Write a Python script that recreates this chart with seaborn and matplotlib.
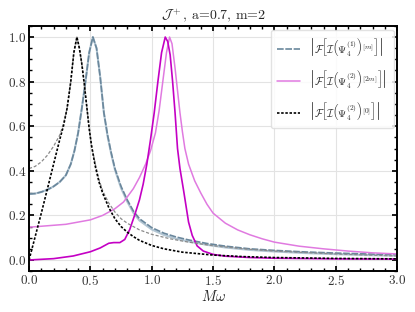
import numpy as np
import pandas as pd
import matplotlib
matplotlib.use("Agg")
import matplotlib.pyplot as plt
import seaborn as sns

# ---- values ----
x_m = [0.0, 0.05, 0.1, 0.15, 0.2, 0.25, 0.3, 0.34, 0.37, 0.4, 0.43, 0.46, 0.49, 0.52,
       0.55, 0.58, 0.61, 0.64, 0.67, 0.7, 0.75, 0.8, 0.85, 0.9, 1.0, 1.1, 1.2, 1.3,
       1.45, 1.6, 1.8, 2.0, 2.25, 2.5, 2.75, 3.0]
y_m_dash = [0.296, 0.298, 0.305, 0.315, 0.33, 0.35, 0.38, 0.43, 0.49, 0.57, 0.68, 0.8,
            0.93, 1.0, 0.95, 0.82, 0.66, 0.56, 0.48, 0.41, 0.33, 0.27, 0.22, 0.185,
            0.145, 0.12, 0.103, 0.09, 0.074, 0.062, 0.05, 0.043, 0.036, 0.031, 0.027, 0.024]
y_m_ref = [0.296, 0.298, 0.305, 0.315, 0.33, 0.35, 0.38, 0.43, 0.49, 0.57, 0.68, 0.8,
           0.93, 1.0, 0.95, 0.82, 0.66, 0.555, 0.475, 0.405, 0.322, 0.262, 0.212, 0.177,
           0.137, 0.112, 0.095, 0.083, 0.068, 0.056, 0.045, 0.038, 0.031, 0.026, 0.022, 0.019]

x_2m = [0.0, 0.3, 0.5, 0.6, 0.7, 0.77, 0.85, 0.9, 0.95, 0.99, 1.03, 1.06, 1.09, 1.12,
        1.145, 1.165, 1.19, 1.21, 1.23, 1.25, 1.27, 1.3, 1.35, 1.4, 1.45, 1.5, 1.6,
        1.7, 1.8, 1.9, 2.0, 2.2, 2.4, 2.6, 2.8, 3.0]
y_2m = [0.147, 0.16, 0.18, 0.2, 0.23, 0.26, 0.32, 0.37, 0.43, 0.49, 0.57, 0.67, 0.8,
        0.93, 1.0, 0.97, 0.86, 0.76, 0.66, 0.575, 0.5, 0.43, 0.355, 0.3, 0.25, 0.21,
        0.165, 0.135, 0.113, 0.095, 0.08, 0.062, 0.05, 0.04, 0.032, 0.027]

x_2m_b = [0.0, 0.2, 0.36, 0.5, 0.58, 0.65, 0.69, 0.74, 0.78, 0.82, 0.86, 0.9, 0.93,
          0.96, 0.99, 1.02, 1.05, 1.08, 1.11, 1.13, 1.15, 1.17, 1.19, 1.21, 1.23,
          1.26, 1.3, 1.33, 1.37, 1.42, 1.5, 1.6, 1.8, 2.0, 2.5, 3.0]
y_2m_b = [0.0, 0.006, 0.018, 0.037, 0.054, 0.075, 0.078, 0.078, 0.092, 0.136, 0.2,
          0.27, 0.34, 0.43, 0.54, 0.66, 0.8, 0.93, 1.0, 0.98, 0.92, 0.8, 0.66, 0.5,
          0.41, 0.31, 0.17, 0.11, 0.063, 0.04, 0.025, 0.017, 0.011, 0.008, 0.005, 0.004]

x_0 = [0.0, 0.05, 0.1, 0.15, 0.2, 0.25, 0.28, 0.31, 0.34, 0.365, 0.39, 0.41, 0.43,
       0.45, 0.47, 0.49, 0.51, 0.54, 0.57, 0.6, 0.65, 0.7, 0.75, 0.8, 0.85, 0.9, 1.0,
       1.1, 1.25, 1.5, 1.75, 2.0, 2.5, 3.0]
y_0 = [0.0, 0.105, 0.21, 0.32, 0.43, 0.54, 0.6, 0.68, 0.8, 0.93, 1.0, 0.95, 0.88,
       0.79, 0.69, 0.59, 0.51, 0.42, 0.35, 0.3, 0.235, 0.185, 0.15, 0.125, 0.105,
       0.088, 0.065, 0.05, 0.035, 0.022, 0.015, 0.011, 0.007, 0.005]

x_0_b = [0.0, 0.05, 0.1, 0.15, 0.2, 0.25, 0.28, 0.31, 0.34, 0.365, 0.39, 0.41, 0.43,
         0.45, 0.47, 0.49, 0.51, 0.54, 0.57, 0.6, 0.65, 0.7, 0.75, 0.8, 0.9, 1.0,
         1.15, 1.3, 1.5, 1.75, 2.0, 2.5, 3.0]
y_0_b = [0.41, 0.42, 0.44, 0.47, 0.51, 0.56, 0.61, 0.68, 0.8, 0.93, 1.0, 0.95, 0.88,
         0.79, 0.69, 0.59, 0.51, 0.43, 0.36, 0.31, 0.255, 0.215, 0.185, 0.165, 0.135,
         0.115, 0.095, 0.08, 0.064, 0.05, 0.04, 0.027, 0.018]

lab_m = r"$\left|\mathcal{F}\left[\mathcal{I}\left(\Psi_4^{(1)}\right)^{[m]}\right]\right|$"
lab_2m = r"$\left|\mathcal{F}\left[\mathcal{I}\left(\Psi_4^{(2)}\right)^{[2m]}\right]\right|$"
lab_0 = r"$\left|\mathcal{F}\left[\mathcal{I}\left(\Psi_4^{(2)}\right)^{[0]}\right]\right|$"

sns.set_theme(style="whitegrid")
plt.rcParams.update({
    "font.family": "serif",
    "font.serif": ["cmr10"],
    "mathtext.fontset": "cm",
    "axes.formatter.use_mathtext": True,
    "axes.edgecolor": "black",
    "axes.linewidth": 1.4,
    "grid.color": "#e3e3e3",
    "grid.linewidth": 0.8,
    "xtick.direction": "in",
    "ytick.direction": "in",
    "xtick.top": True,
    "ytick.right": True,
    "xtick.bottom": True,
    "ytick.left": True,
    "xtick.minor.visible": True,
    "ytick.minor.visible": True,
    "xtick.major.size": 3.5,
    "ytick.major.size": 3.5,
    "xtick.minor.size": 2,
    "ytick.minor.size": 2,
    "xtick.color": "black",
    "ytick.color": "black",
    "xtick.labelcolor": "#333333",
    "ytick.labelcolor": "#333333",
})

fig = plt.figure(figsize=(4.15, 3.12), dpi=100)
ax = fig.add_axes([0.07, 0.131, 0.887, 0.786])

slate_light = "#b3c6d3"
slate = "#6a879c"

sns.lineplot(x=x_m, y=y_m_ref, ax=ax, color=slate_light, lw=1.5, sort=False, estimator=None)
sns.lineplot(x=x_m, y=y_m_dash, ax=ax, color=slate, lw=1.2, ls=(0, (4, 1)),
             sort=False, estimator=None, label=lab_m)
sns.lineplot(x=x_2m, y=y_2m, ax=ax, color="#e07ae0", lw=1.1, sort=False, estimator=None,
             label=lab_2m)
sns.lineplot(x=x_2m_b, y=y_2m_b, ax=ax, color="#c400c4", lw=1.2, sort=False, estimator=None)
sns.lineplot(x=x_0_b, y=y_0_b, ax=ax, color="#8a8a8a", lw=0.9, ls=(0, (2.5, 1.5)),
             sort=False, estimator=None)
sns.lineplot(x=x_0, y=y_0, ax=ax, color="black", lw=1.2, ls=(0, (1.5, 1)),
             sort=False, estimator=None, label=lab_0)

ax.set_xlim(0, 3)
ax.set_ylim(-0.05, 1.05)
ax.set_xticks([0.0, 0.5, 1.0, 1.5, 2.0, 2.5, 3.0])
ax.set_yticks([0.0, 0.2, 0.4, 0.6, 0.8, 1.0])
ax.tick_params(labelsize=9.5, pad=2)
ax.tick_params(which="minor", color="black")
ax.grid(which="minor", visible=False)
ax.set_xlabel(r"$M\omega$", fontsize=10.5, labelpad=1)
ax.set_ylabel("")
ax.set_title(r"$\mathcal{J}^+$, a=0.7, m=2", fontsize=10, pad=4)

leg = ax.legend(loc="upper right", fontsize=7.5, frameon=True, fancybox=True,
                framealpha=0.85, edgecolor="#dddddd", borderaxespad=0.35,
                handlelength=2.2, handletextpad=0.9, labelspacing=0.95,
                borderpad=0.6)

fig.savefig("out.png", dpi=100)
